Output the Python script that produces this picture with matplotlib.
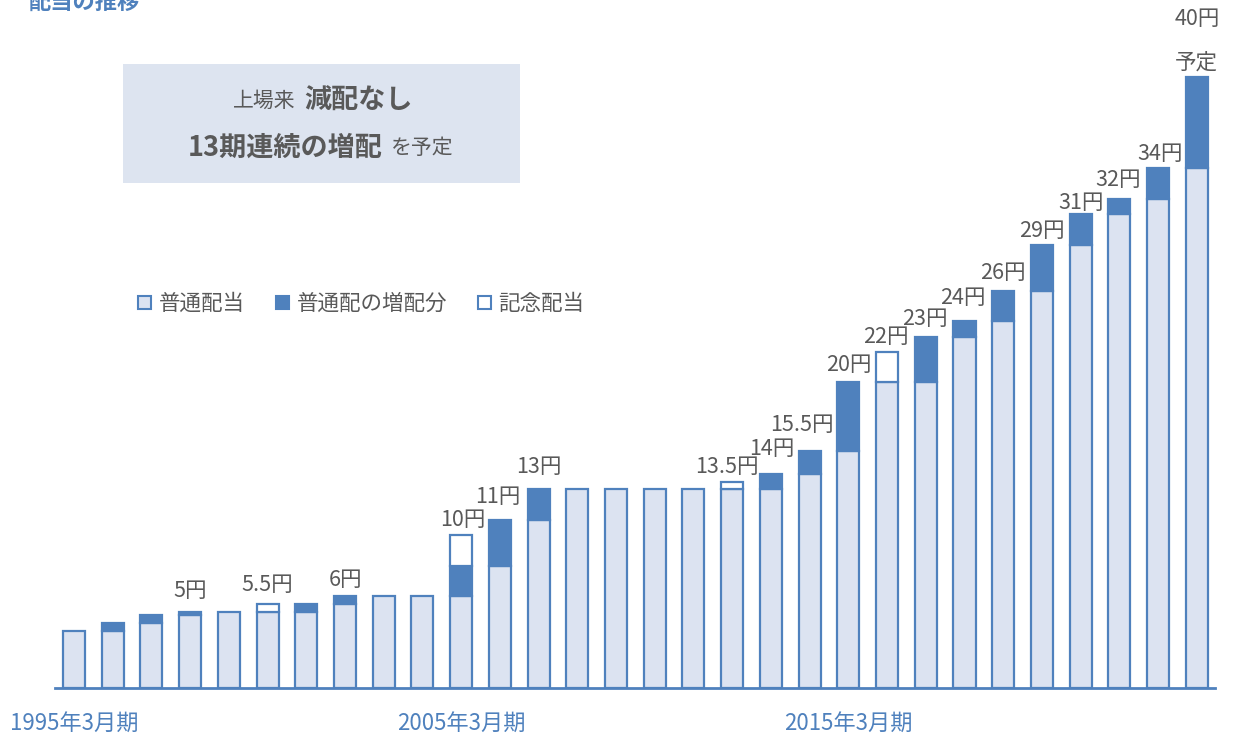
import numpy as np
import matplotlib.pyplot as plt
from matplotlib.patches import Patch, Rectangle

plt.rcParams['font.family'] = ['Noto Sans CJK JP', 'DejaVu Sans']

# 配当の推移（1995年3月期〜2024年3月期、単位：円）
years = list(range(1995, 2025))
ordinary = [3.75, 3.75, 4.25, 4.75, 5, 5, 5, 5.5, 6, 6,
            6, 8, 11, 13, 13, 13, 13, 13, 13, 14,
            15.5, 20, 20, 23, 24, 26, 29, 31, 32, 34]
increase = [0, 0.5, 0.5, 0.25, 0, 0, 0.5, 0.5, 0, 0,
            2, 3, 2, 0, 0, 0, 0, 0, 1, 1.5,
            4.5, 0, 3, 1, 2, 3, 2, 1, 2, 6]
memorial = [0, 0, 0, 0, 0, 0.5, 0, 0, 0, 0,
            2, 0, 0, 0, 0, 0, 0, 0.5, 0, 0,
            0, 2, 0, 0, 0, 0, 0, 0, 0, 0]
labels = {3: "5円", 5: "5.5円", 7: "6円", 10: "10円", 11: "11円", 12: "13円",
          17: "13.5円", 18: "14円", 19: "15.5円", 20: "20円", 21: "22円",
          22: "23円", 23: "24円", 24: "26円", 25: "29円", 26: "31円",
          27: "32円", 28: "34円", 29: "40円"}
tick_years = [1995, 2005, 2015]

BLUE = "#4F81BD"
LIGHT = "#DCE3F1"
GRAY = "#595959"

# ラベル位置の微調整（px：右, 上）
label_shift = {3: (0, 21), 5: (0, 19), 7: (0, 16), 10: (2, 15), 11: (-2, 23),
               12: (0, 22), 17: (-5, 15), 18: (1, 25), 19: (-8, 26), 20: (0, 17),
               21: (-1, 15), 22: (-1, 18), 23: (-2, 23), 24: (0, 18), 25: (0, 14),
               26: (0, 11), 27: (-1, 19), 28: (2, 14), 29: (0, 58)}

W, H = 1237, 736
fig = plt.figure(figsize=(W / 100, H / 100), dpi=100)
ax = fig.add_axes([55 / W, 48 / H, 1160 / W, 688 / H])

x = np.arange(len(years))
ordinary = np.array(ordinary)
increase = np.array(increase)
memorial = np.array(memorial)
bw = 0.57

ax.bar(x, ordinary, bw, color=LIGHT, edgecolor=BLUE, linewidth=1.6)
m = increase > 0
ax.bar(x[m], increase[m], bw, bottom=ordinary[m], color=BLUE, edgecolor=BLUE, linewidth=1.6)
m = memorial > 0
ax.bar(x[m], memorial[m], bw, bottom=(ordinary + increase)[m], color="white",
       edgecolor=BLUE, linewidth=1.6)

total = ordinary + increase + memorial
for i, t in labels.items():
    dx, dy = label_shift.get(i, (0, 18))
    ax.annotate(t, (x[i], total[i]), xytext=(dx * 0.72, dy * 0.72),
                textcoords="offset points", ha="center", va="center",
                fontsize=15.5, color=GRAY)
    if i == len(years) - 1:
        ax.annotate("予定", (x[i], total[i]), xytext=(0, 14 * 0.72),
                    textcoords="offset points", ha="center", va="center",
                    fontsize=15.5, color=GRAY)

ax.set_xlim(-0.49, 29.47)
ax.set_ylim(0, 688 / 15.28)
ax.set_xticks([years.index(y) for y in tick_years])
ax.set_xticklabels([f"{y}年3月期" for y in tick_years], color=BLUE, fontsize=16)
ax.tick_params(axis="x", length=0, pad=17)
ax.set_yticks([])
for s in ["top", "right", "left"]:
    ax.spines[s].set_visible(False)
ax.spines["bottom"].set_color(BLUE)
ax.spines["bottom"].set_linewidth(2)
ax.patch.set_alpha(0)

# 凡例
handles = [Patch(facecolor=LIGHT, edgecolor=BLUE, linewidth=1.5),
           Patch(facecolor=BLUE, edgecolor=BLUE, linewidth=1.5),
           Patch(facecolor="white", edgecolor=BLUE, linewidth=1.5)]
fig.legend(handles, ["普通配当", "普通配の増配分", "記念配当"], ncol=3,
           loc="center left", bbox_to_anchor=(119 / W, 1 - 304 / H), frameon=False,
           fontsize=15.5, handlelength=0.6, handleheight=0.6, handletextpad=0.35,
           columnspacing=1.45, labelcolor=GRAY)

# タイトル
fig.text(28 / W, 1 - 3 / H, "配当の推移", fontsize=16, fontweight="bold",
         color=BLUE, ha="left", va="center")

# 説明ボックス
fig.patches.append(Rectangle((123 / W, 1 - 183 / H), 397 / W, 119 / H,
                             transform=fig.transFigure, facecolor="#DDE4F0",
                             edgecolor="none", zorder=0))
fig.text(296 / W, 1 - 101 / H, "上場来", fontsize=15, color=GRAY, ha="right", va="center")
fig.text(304 / W, 1 - 101 / H, "減配なし", fontsize=19.5, fontweight="bold", color=GRAY,
         ha="left", va="center")
fig.text(383 / W, 1 - 148 / H, "13期連続の増配", fontsize=19.5, fontweight="bold",
         color=GRAY, ha="right", va="center")
fig.text(391 / W, 1 - 148 / H, "を予定", fontsize=15, color=GRAY, ha="left", va="center")

fig.savefig("out.png", dpi=100)
